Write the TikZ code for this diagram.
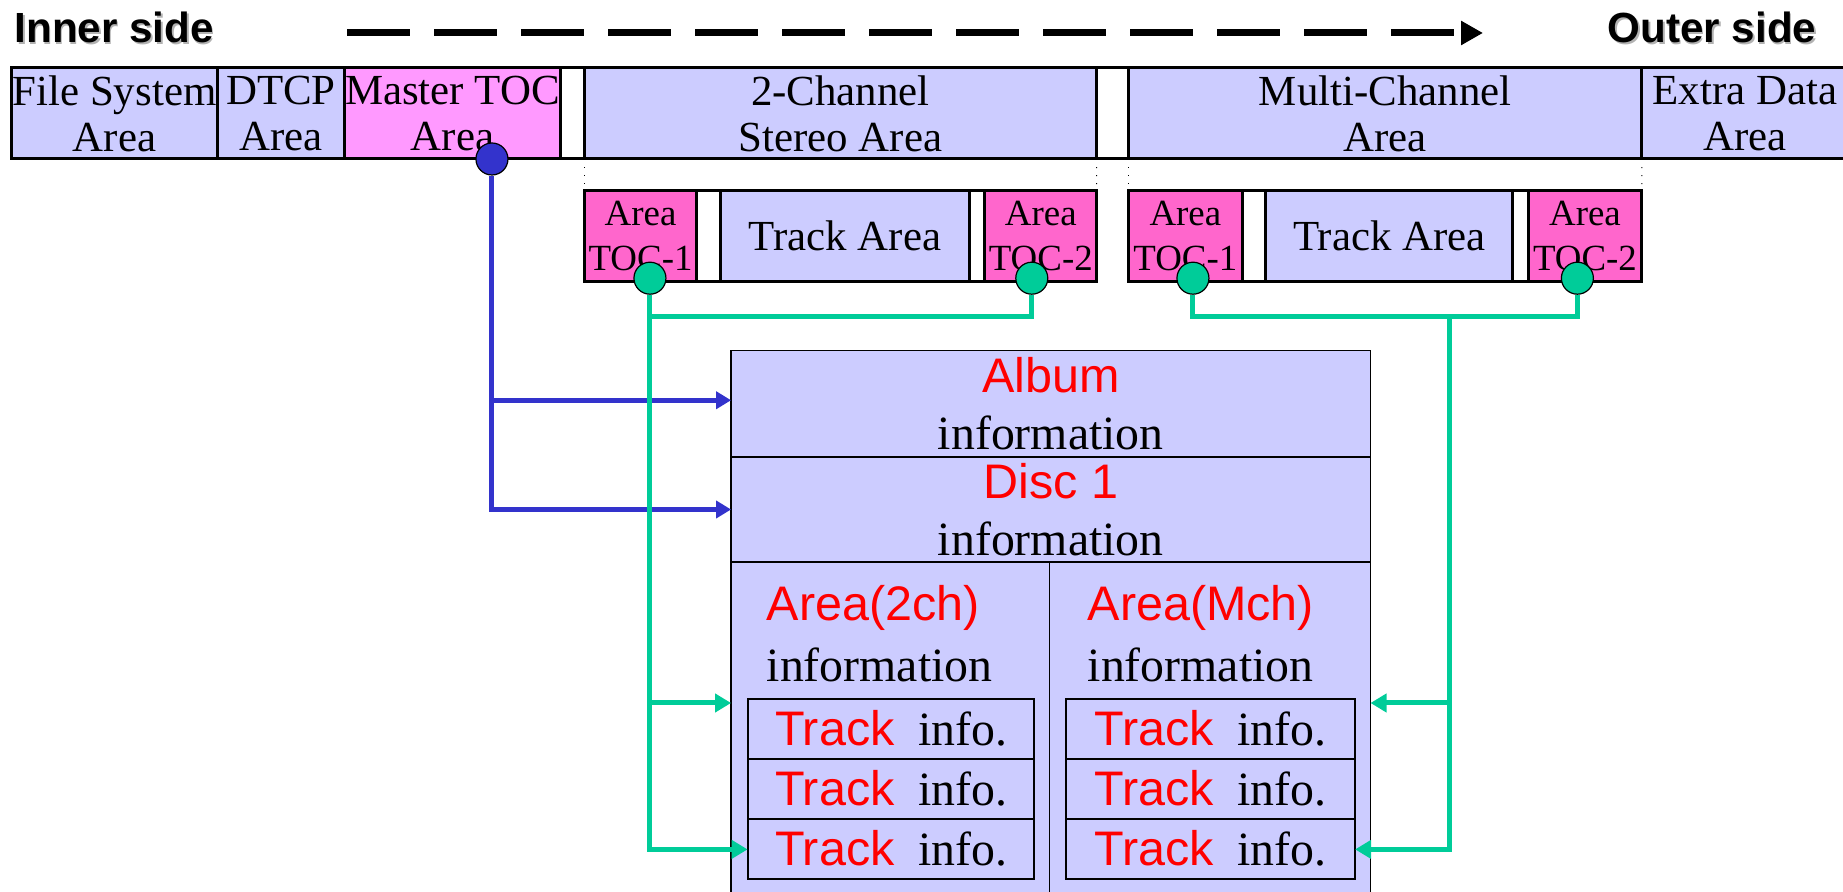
\documentclass[tikz,border=0pt]{standalone}
\usepackage{fontspec}
\setmainfont{Liberation Serif}
\setsansfont{Liberation Sans}
\usetikzlibrary{arrows.meta,positioning}

\definecolor{lavender}{HTML}{CCCCFF}
\definecolor{mtocpink}{HTML}{FF99FF}
\definecolor{tocpink}{HTML}{FF66CC}
\definecolor{linkblue}{HTML}{3333CC}
\definecolor{linkgreen}{HTML}{00CC99}
\definecolor{textred}{HTML}{FF0000}

\newcommand\redsans{\sffamily\fontsize{13.8}{16}\selectfont\color{textred}}

\begin{document}
\begin{tikzpicture}[
  x=0.1mm, y=-0.1mm,
  cell/.style={draw, line width=0.3mm, outer sep=0pt, inner sep=0pt, minimum height=9.1mm, align=center},
  zone/.style={cell, fill=lavender, minimum width=#1, font=\fontsize{12.2}{13}\selectfont},
  gapcell/.style={cell, fill=white, minimum width=#1},
  tocbox/.style={cell, fill=tocpink, minimum width=#1, font=\fontsize{10.5}{12.8}\selectfont},
  infocell/.style={draw, line width=0.15mm, fill=lavender, outer sep=0pt, inner sep=0pt, align=center, font=\fontsize{13.6}{16.3}\selectfont},
  arealabel/.style={inner sep=0pt, align=left, font=\fontsize{13.6}{17.4}\selectfont},
  trackinfo/.style={draw, line width=0.2mm, outer sep=0pt, inner sep=0pt, minimum width=#1, minimum height=6mm, text height=3.3mm, text depth=0pt, font=\fontsize{13.6}{16}\selectfont},
  tocdot/.style={circle, draw, line width=0.12mm, fill=#1, minimum size=3.2mm, inner sep=0pt},
  guide/.style={dotted, line width=0.1mm},
  sidelabel/.style={font=\sffamily\bfseries\fontsize{12}{14}\selectfont, inner sep=0pt},
  bluelink/.style={draw=linkblue, line width=0.5mm, -{Triangle[length=1.5mm,width=1.7mm]}},
  greenlink/.style={draw=linkgreen, line width=0.5mm},
  gtip/.style={-{Triangle[length=1.6mm,width=1.8mm]}}
]
\useasboundingbox (0,0) rectangle (1843,892);
\clip (0,0) rectangle (1843,892);

% direction of the disc
\node[sidelabel, text=black!30, anchor=base west] (innershade) at (15.5,44.2) {Inner side};
\node[sidelabel, text=black!30, anchor=base east] (outershade) at (1818.5,44.2) {Outer side};
\node[sidelabel, anchor=base west] (inner) at (14,42.7) {Inner side};
\node[sidelabel, anchor=base east] (outer) at (1817,42.7) {Outer side};
\coordinate (dirstart) at (347,33);
\coordinate (dirend) at (1483,33);
\draw[line width=0.7mm, dash pattern=on 6.3mm off 2.4mm, -{Triangle[length=2.2mm,width=2.3mm]}] (dirstart) -- (dirend);

% disc layout
\node[zone=20.56mm, anchor=north west] (fs) at (11.75,68) {File System\\Area};
\node[zone=12.7mm, right=0pt of fs] (dtcp) {DTCP\\Area};
\node[zone=21.63mm, fill=mtocpink, right=0pt of dtcp] (mtoc) {Master TOC\\Area};
\node[gapcell=2.35mm, right=0pt of mtoc] (gap1) {};
\node[zone=51.25mm, right=0pt of gap1] (stereo) {2-Channel\\Stereo Area};
\node[gapcell=3.17mm, right=0pt of stereo] (gap2) {};
\node[zone=51.36mm, right=0pt of gap2] (mch) {Multi-Channel\\Area};
\node[zone=20.6mm, right=0pt of mch] (extra) {Extra Data\\Area};

% 2-channel area
\node[tocbox=11.28mm, below right=3.17mm and 0pt of stereo.south west] (toc1a) {Area\\TOC-1};
\node[gapcell=2.35mm, right=0pt of toc1a] (gapa1) {};
\node[zone=24.92mm, right=0pt of gapa1] (tracka) {Track Area};
\node[gapcell=1.53mm, right=0pt of tracka] (gapa2) {};
\node[tocbox=11.17mm, right=0pt of gapa2] (toc2a) {Area\\TOC-2};

% multi-channel area
\node[tocbox=11.4mm, below right=3.17mm and 0pt of mch.south west] (toc1b) {Area\\TOC-1};
\node[gapcell=2.35mm, right=0pt of toc1b] (gapb1) {};
\node[zone=24.69mm, right=0pt of gapb1] (trackb) {Track Area};
\node[gapcell=1.53mm, right=0pt of trackb] (gapb2) {};
\node[tocbox=11.39mm, right=0pt of gapb2] (toc2b) {Area\\TOC-2};

\draw[guide] (stereo.south west) -- (toc1a.north west);
\draw[guide] (stereo.south east) -- (toc2a.north east);
\draw[guide] (mch.south west) -- (toc1b.north west);
\draw[guide] (mch.south east) -- (toc2b.north east);

% TOC contents
\node[infocell, anchor=north west, minimum width=63.94mm, minimum height=10.69mm] (album) at (731.1,350.3) {{\redsans Album}\\information};
\node[infocell, below=0pt of album, minimum width=63.94mm, minimum height=10.46mm] (disc) {{\redsans Disc 1}\\information};
\node[infocell, below right=0pt and 0pt of disc.south west, minimum width=31.85mm, minimum height=40mm] (area2) {};
\node[infocell, right=0pt of area2, minimum width=32.09mm, minimum height=40mm] (areaM) {};

\node[arealabel, below right=2.3mm and 3.49mm of area2.north west] (lab2) {{\redsans Area(2ch)}\\information};
\node[arealabel, below right=2.3mm and 3.74mm of areaM.north west] (labM) {{\redsans Area(Mch)}\\information};

\node[trackinfo=28.68mm, below right=13.76mm and 1.65mm of area2.north west] (tr2a) {{\redsans Track}\hspace{2.35mm}info.};
\node[trackinfo=28.68mm, below=0pt of tr2a] (tr2b) {{\redsans Track}\hspace{2.35mm}info.};
\node[trackinfo=28.68mm, below=0pt of tr2b] (tr2c) {{\redsans Track}\hspace{2.35mm}info.};
\node[trackinfo=28.9mm, below right=13.76mm and 1.65mm of areaM.north west] (trMa) {{\redsans Track}\hspace{2.35mm}info.};
\node[trackinfo=28.9mm, below=0pt of trMa] (trMb) {{\redsans Track}\hspace{2.35mm}info.};
\node[trackinfo=28.9mm, below=0pt of trMb] (trMc) {{\redsans Track}\hspace{2.35mm}info.};

% pointers out of the TOCs
\node[tocdot=linkblue] (mdot) at ([xshift=-6.87mm]mtoc.south east) {};
\node[tocdot=linkgreen] (g1) at ([xshift=0.94mm, yshift=0.35mm]toc1a.south) {};
\node[tocdot=linkgreen] (g2) at ([xshift=-0.9mm, yshift=0.35mm]toc2a.south) {};
\node[tocdot=linkgreen] (g3) at ([xshift=0.76mm, yshift=0.35mm]toc1b.south) {};
\node[tocdot=linkgreen] (g4) at ([xshift=-0.76mm, yshift=0.35mm]toc2b.south) {};

\draw[bluelink] (mdot) |- ([yshift=0.35mm]album.west);
\draw[bluelink] (mdot) |- (disc.west);

\coordinate (bar2) at ([yshift=-3.85mm]g1.center);
\coordinate (in2) at ([yshift=-0.36mm]area2.west |- tr2a.north);
\draw[greenlink] (g2) |- (bar2);
\draw[greenlink, gtip] (g1) |- (in2);
\draw[greenlink, gtip] (g1) |- (tr2c.west);

\coordinate (barM) at ([xshift=7.85mm]areaM.east |- bar2);
\coordinate (inM) at ([yshift=-0.36mm]areaM.east |- trMa.north);
\draw[greenlink] (g3) |- (barM) -| (g4);
\draw[greenlink, gtip] (barM) |- (inM);
\draw[greenlink, gtip] (barM) |- (trMc.east);
\end{tikzpicture}
\end{document}
